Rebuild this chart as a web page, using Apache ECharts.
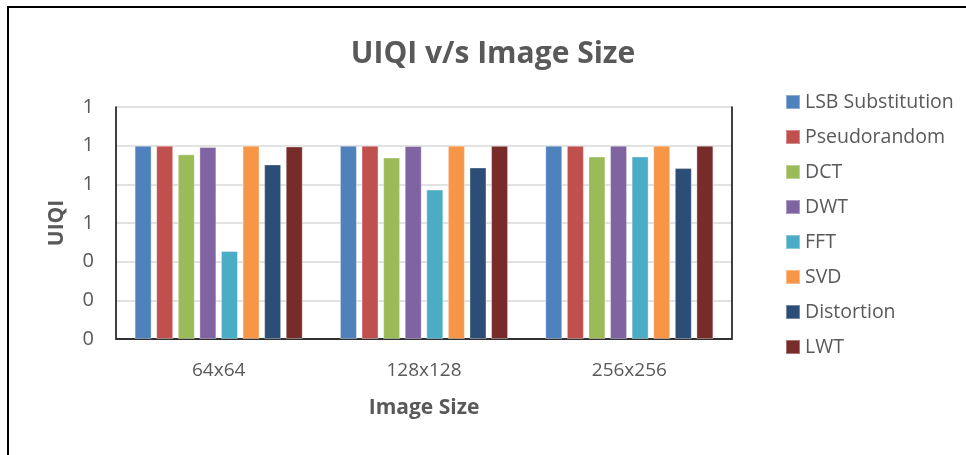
<!DOCTYPE html>
<html>
<head>
<meta charset="utf-8">
<script src="https://cdn.jsdelivr.net/npm/echarts@6/dist/echarts.min.js"></script>
<style>
  html, body { margin: 0; padding: 0; background: #fff; }
  #frame { position: absolute; left: 7px; top: 6px; right: -4px; bottom: -4px; border: 2px solid #000; box-sizing: border-box; }
  #chart { position: absolute; left: 0; top: 0; width: 966px; height: 455px; }
</style>
</head>
<body>
<div id="frame"></div>
<div id="chart"></div>
<script>
// Image sizes on the category axis
const categories = ['64x64', '128x128', '256x256'];

// UIQI per method and image size
const lsb        = [1.0, 1.0, 1.0];
const pseudo     = [1.0, 1.0, 1.0];
const dct        = [0.955, 0.939, 0.944];
const dwt        = [0.993, 0.998, 1.0];
const fft        = [0.455, 0.773, 0.944];
const svd        = [1.0, 1.0, 1.0];
const distortion = [0.903, 0.887, 0.884];
const lwt        = [0.996, 0.999, 1.0];

const seriesNames = ['LSB Substitution', 'Pseudorandom', 'DCT', 'DWT', 'FFT', 'SVD', 'Distortion', 'LWT'];
const seriesValues = [lsb, pseudo, dct, dwt, fft, svd, distortion, lwt];
const colors = ['#4f81bd', '#c0504d', '#9bbb59', '#8064a2', '#4bacc6', '#f79646', '#2c4d75', '#772c2a'];

const FONT = "'Open Sans', 'Noto Sans', sans-serif";
const TEXT = '#595959';

const chart = echarts.init(document.getElementById('chart'), null, { renderer: 'canvas' });

chart.setOption({
  animation: false,
  color: colors,
  textStyle: { fontFamily: FONT },
  title: {
    text: 'UIQI v/s Image Size',
    left: 488,
    textAlign: 'center',
    top: 34,
    textStyle: { fontFamily: FONT, fontSize: 30, fontWeight: 'bold', color: TEXT }
  },
  legend: {
    orient: 'vertical',
    left: 785,
    top: 90,
    padding: 0,
    itemWidth: 14,
    itemHeight: 14,
    itemGap: 11,
    icon: 'rect',
    textStyle: { fontFamily: FONT, fontSize: 19.5, color: TEXT, lineHeight: 24 },
    data: seriesNames
  },
  grid: { left: 116, right: 234, top: 107, bottom: 116, containLabel: false },
  xAxis: [{
    type: 'category',
    data: categories,
    position: 'bottom',
    axisLine: { show: true, lineStyle: { color: '#bfbfbf', width: 1.5 } },
    axisTick: { show: false },
    axisLabel: { fontFamily: FONT, fontSize: 19, color: TEXT, margin: 22 },
    name: 'Image Size',
    nameLocation: 'middle',
    nameGap: 59,
    nameTextStyle: { fontFamily: FONT, fontSize: 21, fontWeight: 'bold', color: TEXT }
  }, {
    type: 'category',
    data: categories,
    position: 'top',
    axisLine: { show: true, lineStyle: { color: '#000', width: 1.5 } },
    axisTick: { show: false },
    axisLabel: { show: false }
  }],
  yAxis: [{
    type: 'value',
    min: 0,
    max: 1.2,
    interval: 0.2,
    position: 'left',
    axisLine: { show: true, lineStyle: { color: '#000', width: 1.5 } },
    axisTick: { show: false },
    axisLabel: {
      fontFamily: FONT, fontSize: 20, color: TEXT, margin: 22,
      formatter: v => String(Math.round(v))
    },
    splitLine: { show: true, lineStyle: { color: '#d9d9d9', width: 1.5 } },
    name: 'UIQI',
    nameLocation: 'middle',
    nameGap: 48,
    nameTextStyle: { fontFamily: FONT, fontSize: 21, fontWeight: 'bold', color: TEXT }
  }, {
    type: 'value',
    min: 0,
    max: 1.2,
    interval: 0.2,
    position: 'right',
    axisLine: { show: true, lineStyle: { color: '#000', width: 1.5 } },
    axisTick: { show: false },
    axisLabel: { show: false },
    splitLine: { show: false }
  }],
  series: seriesNames.map((name, i) => ({
    name,
    type: 'bar',
    data: seriesValues[i],
    barWidth: 17,
    barGap: '27%',
    itemStyle: { borderColor: 'rgba(255,255,255,0.35)', borderWidth: 1 }
  }))
});
</script>
</body>
</html>
